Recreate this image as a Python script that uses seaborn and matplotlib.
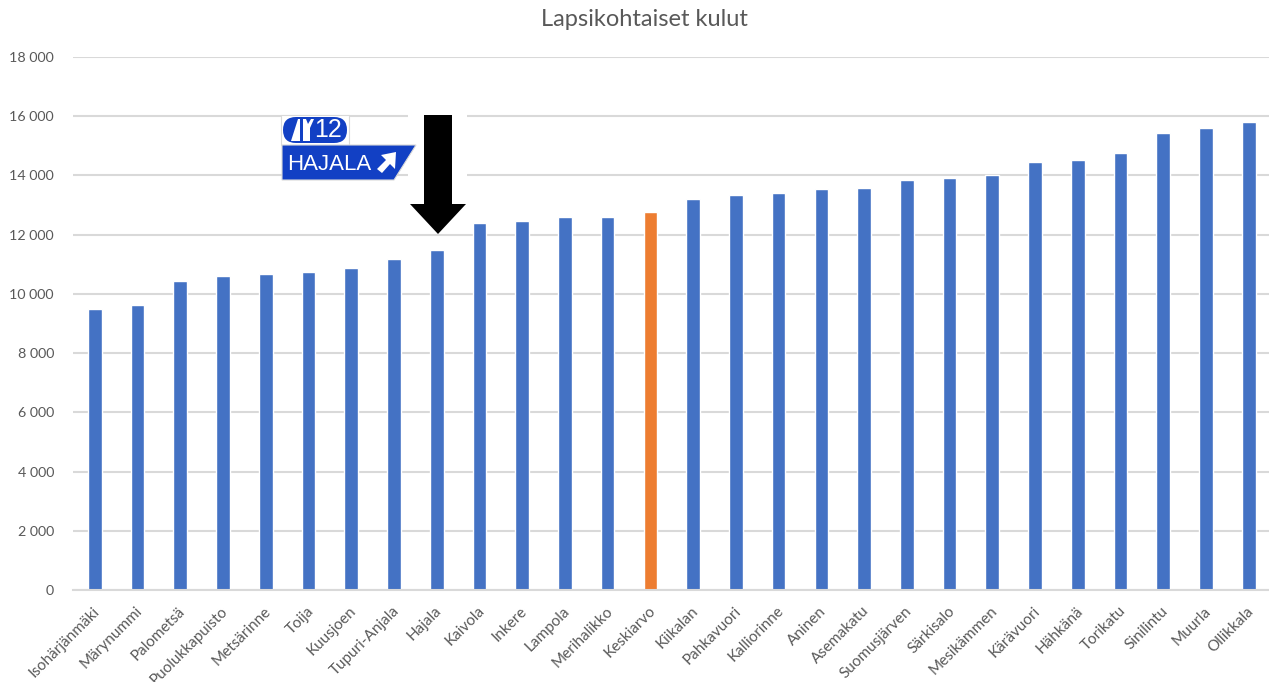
"""Lapsikohtaiset kulut bar chart with the road sign and arrow on top."""
import matplotlib
matplotlib.use('Agg')
import matplotlib.pyplot as plt
from matplotlib.patches import FancyBboxPatch, Polygon, Rectangle
from matplotlib.ticker import FuncFormatter
from matplotlib.transforms import ScaledTranslation
import pandas as pd
import seaborn as sns

names = ['Isohärjänmäki', 'Märynummi', 'Palometsä', 'Puolukkapuisto', 'Metsärinne',
         'Toija', 'Kuusjoen', 'Tupuri-Anjala', 'Hajala', 'Kaivola', 'Inkere', 'Lampola',
         'Merihalikko', 'Keskiarvo', 'Kiikalan', 'Pahkavuori', 'Kalliorinne', 'Aninen',
         'Asemakatu', 'Suomusjärven', 'Särkisalo', 'Mesikämmen', 'Kärävuori', 'Hähkänä',
         'Torikatu', 'Sinilintu', 'Muurla', 'Ollikkala']
costs = [9500, 9630, 10430, 10610, 10680, 10730, 10860, 11180, 11490, 12410, 12470, 12590,
         12600, 12780, 13220, 13350, 13410, 13530, 13590, 13840, 13900, 14020, 14460, 14520,
         14770, 15450, 15590, 15820]
y_ticks = [0, 2000, 4000, 6000, 8000, 10000, 12000, 14000, 16000, 18000]

W, H = 1269, 682
BLUE, ORANGE = '#4472C4', '#ED7D31'
TEXT = '#595959'
GRID = '#D9D9D9'
SIGN = '#1240C4'

sns.set_theme(style='white')
plt.rcParams['font.family'] = ['Lato', 'DejaVu Sans']

df = pd.DataFrame({'name': names, 'cost': costs})
colors = [ORANGE if n == 'Keskiarvo' else BLUE for n in names]

fig = plt.figure(figsize=(W / 100, H / 100), dpi=100, facecolor='white')
ax = fig.add_axes([73.4 / W, 1 - 590 / H, 28 * 42.74 / W, 533 / H])
sns.barplot(data=df, x='name', y='cost', hue='name', palette=colors, legend=False,
            width=0.32, saturation=1, ax=ax)

ax.set_xlim(-0.5, len(names) - 0.5)
ax.set_ylim(0, 18000)
ax.set_yticks(y_ticks)
ax.yaxis.set_major_formatter(FuncFormatter(lambda v, _: f'{int(v):,}'.replace(',', ' ')))
ax.set_xlabel('')
ax.set_ylabel('')
ax.grid(True, axis='y', color=GRID, linewidth=1.5)
ax.set_axisbelow(True)
for side in ['top', 'right', 'left']:
    ax.spines[side].set_visible(False)
ax.spines['bottom'].set_color(GRID)
ax.spines['bottom'].set_linewidth(1.5)
ax.tick_params(axis='y', length=0, pad=14, labelsize=10.3, labelcolor=TEXT)
ax.tick_params(axis='x', length=0, pad=10, labelsize=11, labelcolor=TEXT)
plt.setp(ax.get_xticklabels(), rotation=45, ha='right', rotation_mode='anchor')
for lab in ax.get_xticklabels():
    lab.set_transform(lab.get_transform() + ScaledTranslation(-2 / 100, 0, fig.dpi_scale_trans))

fig.text(644 / W, 1 - 19 / H, 'Lapsikohtaiset kulut', ha='center', va='center',
         fontsize=17, color=TEXT)

# overlay in picture pixels for the pasted sign and arrow
over = fig.add_axes([0, 0, 1, 1], facecolor='none')
over.set_xlim(0, W)
over.set_ylim(H, 0)
over.axis('off')

# arrow pasted on a white box, hides the gridlines behind it
over.add_patch(Rectangle((408, 110), 59, 122, fc='white', ec='none'))
over.add_patch(Polygon([(424, 115), (452, 115), (452, 204), (466, 204), (438, 234),
                        (410, 204), (424, 204)], fc='black', ec='none'))

# road sign
over.add_patch(Rectangle((281, 115), 68, 30, fc='white', ec='#D9D9D9', lw=0.8))
over.add_patch(FancyBboxPatch((283, 117), 64, 26, boxstyle='round,pad=0,rounding_size=13',
                              fc=SIGN, ec='none'))
over.add_patch(Polygon([(291, 141), (298, 119), (300, 119), (300, 141)], fc='white', ec='none'))
over.add_patch(Polygon([(303, 141), (303, 119), (306, 119), (308, 124), (311, 119), (314, 119),
                        (310, 128), (310, 141)], fc='white', ec='none'))
over.text(327.5, 130, '12', color='white', fontsize=18, ha='center', va='center',
          family=['Liberation Sans'])
over.add_patch(Polygon([(282, 145), (416, 145), (394, 180), (282, 180)], fc=SIGN,
                       ec='#D9D9D9', lw=0.8))
over.text(287, 165, 'HAJALA', color='white', fontsize=16, ha='left', va='center',
          family=['Liberation Sans'])
over.add_patch(Polygon([(396, 152), (395, 169), (390, 164), (382, 173), (377, 169),
                        (386, 160), (381, 155)], fc='white', ec='none'))

fig.savefig('out.png', dpi=100)
